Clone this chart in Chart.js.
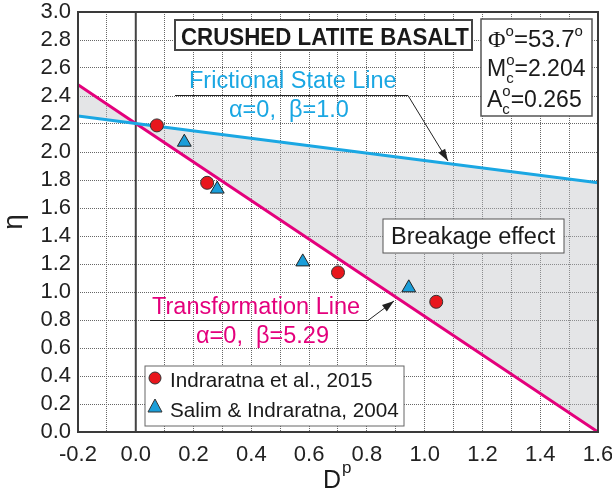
<!DOCTYPE html>
<html>
<head>
<meta charset="utf-8">
<script src="https://cdn.jsdelivr.net/npm/chart.js@4.4.1/dist/chart.umd.min.js"></script>
<style>
  html, body { margin: 0; padding: 0; background: #fff; }
  #wrap { width: 612px; height: 494px; }
</style>
</head>
<body>
<div id="wrap"><canvas id="chart" width="612" height="494"></canvas></div>
<script>
// data
const redX = [0.073, 0.247, 0.70, 1.04];      // Indraratna et al., 2015
const redY = [2.19, 1.78, 1.14, 0.93];
const blueX = [0.168, 0.282, 0.578, 0.945];   // Salim & Indraratna, 2004
const blueY = [2.07, 1.735, 1.215, 1.03];
const lineX = [-0.2, 0.0, 1.6];
const fslY = [2.257, 2.204, 1.78];            // frictional state line
const tlY = [2.48, 2.204, 0.0];               // transformation line
const zeroX = [0.0, 0.0];
const zeroY = [0.0, 3.0];
const xLabels = [-0.2, 0.0, 0.2, 0.4, 0.6, 0.8, 1.0, 1.2, 1.4, 1.6];
const yLabels = [0.0, 0.2, 0.4, 0.6, 0.8, 1.0, 1.2, 1.4, 1.6, 1.8, 2.0, 2.2, 2.4, 2.6, 2.8, 3.0];

const CYAN = '#1aa7e3';
const MAGENTA = '#e4007c';
const RED = '#e8161c';
const BLUE = '#1a9ed9';
const SANS = '"Liberation Sans", Arial, sans-serif';

const pts = (xs, ys) => xs.map((x, i) => ({ x: x, y: ys[i] }));

function arrow(ctx, path) {
    ctx.save();
    ctx.strokeStyle = '#222';
    ctx.fillStyle = '#222';
    ctx.lineWidth = 1;
    ctx.beginPath();
    ctx.moveTo(path[0][0], path[0][1]);
    for (let i = 1; i < path.length; i++) ctx.lineTo(path[i][0], path[i][1]);
    ctx.stroke();
    const [x1, y1] = path[path.length - 2];
    const [x2, y2] = path[path.length - 1];
    const a = Math.atan2(y2 - y1, x2 - x1);
    ctx.beginPath();
    ctx.moveTo(x2, y2);
    ctx.lineTo(x2 - 12 * Math.cos(a) + 4 * Math.sin(a), y2 - 12 * Math.sin(a) - 4 * Math.cos(a));
    ctx.lineTo(x2 - 12 * Math.cos(a) - 4 * Math.sin(a), y2 - 12 * Math.sin(a) + 4 * Math.cos(a));
    ctx.closePath();
    ctx.fill();
    ctx.restore();
}

function box(ctx, x, y, w, h, color, lw) {
    ctx.save();
    ctx.fillStyle = '#fff';
    ctx.fillRect(x, y, w, h);
    ctx.strokeStyle = color;
    ctx.lineWidth = lw;
    ctx.strokeRect(x, y, w, h);
    ctx.restore();
}

// M with o above and c below, then the rest
function supSub(ctx, x, y, big, rest) {
    ctx.font = '23px ' + SANS;
    ctx.fillText(big, x, y);
    let w = ctx.measureText(big).width;
    ctx.font = '15px ' + SANS;
    ctx.fillText('o', x + w, y - 11);
    ctx.fillText('c', x + w, y + 7);
    w += ctx.measureText('o').width;
    ctx.font = '23px ' + SANS;
    ctx.fillText(rest, x + w, y);
}

const notes = {
    id: 'notes',
    afterDraw(chart) {
        const ctx = chart.ctx;
        const ca = chart.chartArea;
        ctx.save();

        // plot frame
        ctx.strokeStyle = '#3a3a3a';
        ctx.lineWidth = 2;
        ctx.strokeRect(ca.left, ca.top, ca.right - ca.left, ca.bottom - ca.top);

        ctx.textAlign = 'left';
        ctx.textBaseline = 'alphabetic';

        // title box
        box(ctx, 175, 20, 297, 30, '#444', 2);
        ctx.fillStyle = '#1a1a1a';
        ctx.font = 'bold 23px ' + SANS;
        ctx.fillText('CRUSHED LATITE BASALT', 181, 45, 288);

        // parameter box
        box(ctx, 481, 19, 111, 97, '#555', 1.5);
        ctx.fillStyle = '#1a1a1a';
        ctx.font = '24px "Liberation Serif", serif';
        ctx.fillText('\u03A6', 488, 47);
        let w = ctx.measureText('\u03A6').width;
        ctx.font = '15px ' + SANS;
        ctx.fillText('o', 488 + w, 36);
        w += ctx.measureText('o').width;
        ctx.font = '24px ' + SANS;
        ctx.fillText('=53.7', 488 + w, 47);
        w += ctx.measureText('=53.7').width;
        ctx.font = '15px ' + SANS;
        ctx.fillText('o', 488 + w, 36);
        supSub(ctx, 487, 76, 'M', '=2.204');
        supSub(ctx, 487, 107, 'A', '=0.265');

        // frictional state line label
        ctx.fillStyle = CYAN;
        ctx.font = '23.5px ' + SANS;
        ctx.fillText('Frictional State Line', 189, 88);
        ctx.fillText('\u03B1=0,  \u03B2=1.0', 229, 117);
        arrow(ctx, [[175, 95.5], [408, 95.5], [448, 161]]);

        // transformation line label
        ctx.fillStyle = MAGENTA;
        ctx.fillText('Transformation Line', 152, 314);
        ctx.fillText('\u03B1=0,  \u03B2=5.29', 196, 343);
        arrow(ctx, [[150, 320.5], [368, 320.5], [394, 301]]);

        // breakage box
        box(ctx, 383, 219, 181, 34, '#555', 1);
        ctx.fillStyle = '#1a1a1a';
        ctx.font = '23.5px ' + SANS;
        ctx.fillText('Breakage effect', 391, 244);

        // legend
        box(ctx, 145, 366, 259, 60, '#666', 1);
        ctx.fillStyle = RED;
        ctx.strokeStyle = '#333';
        ctx.lineWidth = 1;
        ctx.beginPath();
        ctx.arc(155, 378, 6, 0, Math.PI * 2);
        ctx.fill();
        ctx.stroke();
        ctx.fillStyle = BLUE;
        ctx.beginPath();
        ctx.moveTo(155, 399);
        ctx.lineTo(162, 412);
        ctx.lineTo(148, 412);
        ctx.closePath();
        ctx.fill();
        ctx.stroke();
        ctx.fillStyle = '#1a1a1a';
        ctx.font = '20.7px ' + SANS;
        ctx.fillText('Indraratna et al., 2015', 170, 387);
        ctx.fillText('Salim & Indraratna, 2004', 170, 417);

        // x axis title D^p
        ctx.font = '25px ' + SANS;
        ctx.fillText('D', 323, 488);
        const dw = ctx.measureText('D').width;
        ctx.font = '17px ' + SANS;
        ctx.fillText('p', 323 + dw + 1, 473);

        ctx.restore();
    }
};

new Chart(document.getElementById('chart'), {
    type: 'line',
    data: {
        datasets: [
            {
                label: 'Indraratna et al., 2015',
                data: pts(redX, redY),
                showLine: false,
                pointStyle: 'circle',
                pointRadius: 6.5,
                pointBackgroundColor: RED,
                pointBorderColor: '#333',
                pointBorderWidth: 1,
                order: 0
            },
            {
                label: 'Salim & Indraratna, 2004',
                data: pts(blueX, blueY),
                showLine: false,
                pointStyle: 'triangle',
                pointRadius: 8,
                pointBackgroundColor: BLUE,
                pointBorderColor: '#222',
                pointBorderWidth: 1,
                order: 0
            },
            {
                label: 'Frictional State Line',
                data: pts(lineX, fslY),
                borderColor: CYAN,
                borderWidth: 3,
                pointRadius: 0,
                fill: 3,
                backgroundColor: 'rgba(190, 193, 198, 0.42)',
                order: 1
            },
            {
                label: 'Transformation Line',
                data: pts(lineX, tlY),
                borderColor: MAGENTA,
                borderWidth: 3,
                pointRadius: 0,
                fill: false,
                order: 1
            },
            {
                label: 'zero',
                data: pts(zeroX, zeroY),
                borderColor: '#444',
                borderWidth: 2,
                pointRadius: 0,
                fill: false,
                order: 2
            }
        ]
    },
    options: {
        responsive: false,
        animation: false,
        layout: { padding: { top: 12, right: 14, left: 0, bottom: 0 } },
        plugins: {
            legend: { display: false },
            tooltip: { enabled: false },
            filler: { drawTime: 'beforeDatasetsDraw' }
        },
        scales: {
            x: {
                type: 'linear',
                min: -0.2,
                max: 1.6,
                afterFit: (s) => { s.height = 62; s.paddingLeft = 0; s.paddingRight = 0; },
                ticks: {
                    stepSize: 0.1,
                    padding: 10,
                    maxRotation: 0,
                    autoSkip: false,
                    color: '#222',
                    font: { family: SANS, size: 22 },
                    callback: (v) => xLabels.some(l => Math.abs(l - v) < 1e-6) ? v.toFixed(1) : ''
                },
                grid: { color: '#666', lineWidth: 1, drawTicks: false },
                border: { display: false, dash: [1, 1] }
            },
            y: {
                min: 0,
                max: 3,
                afterFit: (s) => { s.width = 78; s.paddingTop = 0; s.paddingBottom = 0; },
                ticks: {
                    stepSize: 0.2,
                    padding: 7,
                    autoSkip: false,
                    color: '#222',
                    font: { family: SANS, size: 22 },
                    callback: (v) => yLabels.some(l => Math.abs(l - v) < 1e-6) ? v.toFixed(1) : ''
                },
                grid: { color: '#666', lineWidth: 1, drawTicks: false },
                border: { display: false, dash: [1, 1] },
                title: {
                    display: true,
                    text: '\u03B7',
                    color: '#222',
                    font: { family: SANS, size: 28, lineHeight: 1 },
                    padding: { top: 0, bottom: 0 }
                }
            }
        }
    },
    plugins: [notes]
});
</script>
</body>
</html>
